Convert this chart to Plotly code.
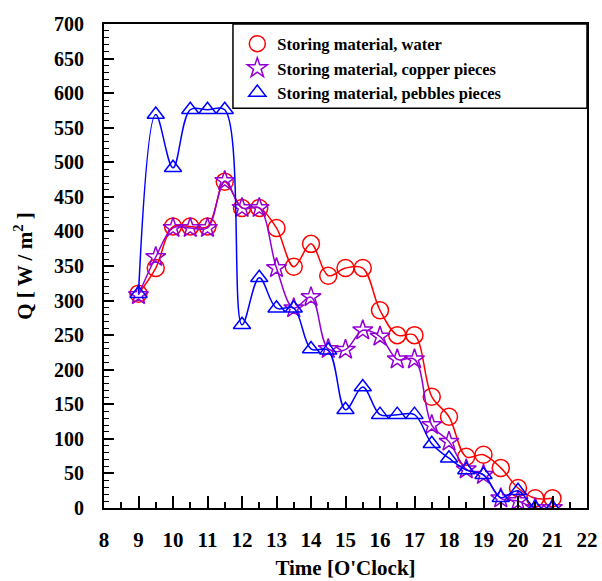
import plotly.graph_objects as go

# Time of day [h]
time = [9, 9.5, 10, 10.5, 11, 11.5, 12, 12.5, 13, 13.5, 14, 14.5, 15,
        15.5, 16, 16.5, 17, 17.5, 18, 18.5, 19, 19.5, 20, 20.5, 21]

# Useful heat Q [W/m2] for each storing material
water = [310, 347, 407, 407, 407, 472, 434, 434, 405, 349, 382, 336, 347,
         347, 286, 250, 250, 161, 132, 74, 77, 58, 29, 14, 14]
copper = [308, 363, 405, 405, 405, 473, 434, 434, 347, 289, 305, 230, 229,
          257, 248, 215, 215, 120, 96, 56, 48, 14, 10, 0, 0]
pebbles = [310, 569, 492, 576, 576, 576, 265, 333, 289, 289, 230, 228, 142,
           175, 135, 135, 135, 93, 72, 55, 48, 15, 25, 0, 0]

FONT = "Liberation Serif"

series = [
    ("Storing material, water", water, "#FF0000", "circle-open", 17),
    ("Storing material, copper pieces", copper, "#9400D3", "star-open", 15),
    ("Storing material, pebbles pieces", pebbles, "#0000FF", "triangle-up-open", 15),
]

fig = go.Figure()
for name, vals, color, symbol, size in series:
    # smoothed connecting curve
    fig.add_trace(go.Scatter(
        x=time, y=vals, name=name, legendgroup=name, showlegend=False,
        mode="lines", hoverinfo="skip",
        line=dict(color=color, width=1.5, shape="spline", smoothing=1.0),
    ))
    # open markers at the measured points (legend shows the marker only)
    fig.add_trace(go.Scatter(
        x=time, y=vals, name=name, legendgroup=name, mode="markers",
        marker=dict(symbol=symbol, size=size, color=color,
                    line=dict(color=color, width=1.5)),
    ))

# legend frame reaching the right edge of the plot area
fig.add_shape(type="rect", xref="paper", yref="paper",
              x0=0.267, x1=1.0, y0=0.826, y1=1.0,
              line=dict(color="black", width=1.5), fillcolor="rgba(0,0,0,0)",
              layer="above")

fig.update_layout(
    width=602, height=581,
    margin=dict(l=104, r=15, t=24, b=73),
    paper_bgcolor="white", plot_bgcolor="white",
    font=dict(family=FONT, color="black"),
    showlegend=True,
    legend=dict(
        x=0.276, y=0.995, xanchor="left", yanchor="top",
        borderwidth=0, bgcolor="rgba(0,0,0,0)",
        font=dict(family=FONT, size=16.5, color="black", weight="bold"),
        tracegroupgap=0, itemwidth=30,
    ),
)

fig.update_xaxes(
    range=[8, 22], tickmode="linear", tick0=8, dtick=1,
    ticks="inside", ticklen=12, tickwidth=1.5, tickcolor="black",
    minor=dict(ticks="inside", dtick=0.5, ticklen=6, tickwidth=1.5, tickcolor="black"),
    showline=True, linecolor="black", linewidth=2, mirror=True,
    showgrid=False, zeroline=False, automargin=False,
    tickfont=dict(family=FONT, size=21, color="black", weight="bold"),
    ticklabelstandoff=12,
    title=dict(text="Time [O'Clock]", standoff=9,
               font=dict(family=FONT, size=21, color="black", weight="bold")),
)

fig.update_yaxes(
    range=[0, 700], tickmode="linear", tick0=0, dtick=50,
    ticks="inside", ticklen=10, tickwidth=1.5, tickcolor="black",
    minor=dict(ticks="inside", dtick=10, ticklen=5, tickwidth=1, tickcolor="black"),
    showline=True, linecolor="black", linewidth=2, mirror=True,
    showgrid=False, zeroline=False, automargin=False,
    tickfont=dict(family=FONT, size=20, color="black", weight="bold"),
    ticklabelstandoff=14,
    title=dict(text="Q [ W / m<sup>2</sup> ]", standoff=16,
               font=dict(family=FONT, size=21, color="black", weight="bold")),
)

fig.write_html("out.html")
